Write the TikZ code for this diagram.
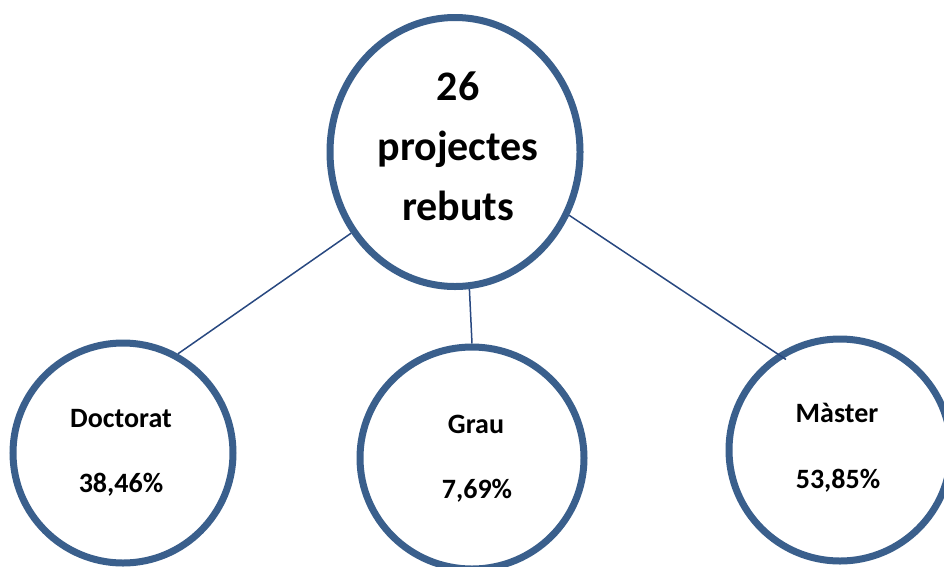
\documentclass[tikz,border=0pt]{standalone}
\usepackage{fontspec}
\setmainfont{Carlito}
\usetikzlibrary{shapes.geometric}
\definecolor{vora}{RGB}{58,95,140}
\definecolor{linia}{RGB}{40,72,128}

\begin{document}
\begin{tikzpicture}[x=1pt,y=-1pt,
  cercle/.style={ellipse,draw=vora,line width=7pt,fill=white,inner sep=0pt},
  gran/.style={anchor=base,inner sep=0pt,font=\fontsize{42}{50}\selectfont\bfseries},
  petit/.style={anchor=base,inner sep=0pt,font=\fontsize{28}{34}\selectfont\bfseries},
  fil/.style={draw=linia,line width=1.5pt}]
\useasboundingbox (0,0) rectangle (944,566);
\node[cercle,minimum width=250pt,minimum height=269pt] (tot) at (455,152) {};
\node[cercle,minimum width=220pt,minimum height=220pt] (doc) at (123,453) {};
\node[cercle,minimum width=224pt,minimum height=222pt] (gra) at (472,458) {};
\node[cercle,minimum width=222pt,minimum height=222pt] (mas) at (840,450) {};

\node[gran] (t1) at (458,100) {26};
\node[gran] (t2) at (458,160) {projectes};
\node[gran] (t3) at (458,220) {rebuts};
\node[petit] (d1) at (121,427) {Doctorat};
\node[petit] (d2) at (121,492) {38,46\%};
\node[petit] (g1) at (476,433) {Grau};
\node[petit] (g2) at (477,498) {7,69\%};
\node[petit] (m1) at (837,422) {Màster};
\node[petit] (m2) at (838,488) {53,85\%};

\draw[fil] (tot.218) -- (doc.61);
\draw[fil] (tot.276) -- (gra.90);
\draw[fil,shorten >=-10pt] (tot.331) -- (mas.123);
\end{tikzpicture}
\end{document}
